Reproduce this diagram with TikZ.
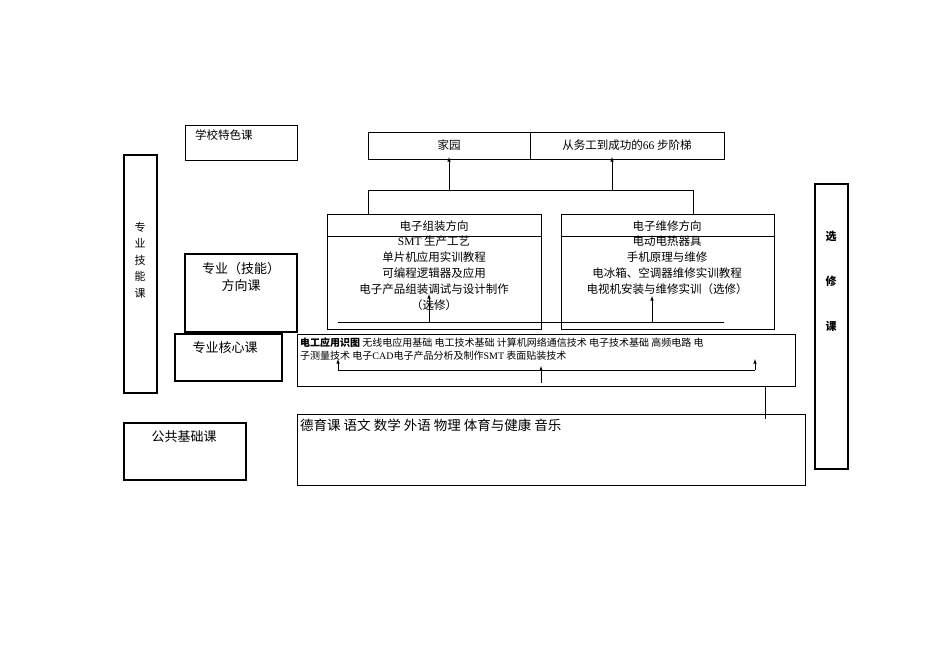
\documentclass[tikz,border=0pt]{standalone}
\usepackage{fontspec}
\setmainfont{Noto Sans CJK SC}
\newfontfamily\lat{Liberation Serif}
\begin{document}
\begin{tikzpicture}[x=1bp,y=-1bp,
  thin box/.style={draw,line width=0.6bp},
  thick box/.style={draw,line width=2bp},
  lbl/.style={inner sep=0,font=\fontsize{11.5bp}{14bp}\selectfont},
  arr/.style={-latex,line width=0.6bp},
  ln/.style={line width=0.6bp}]
\useasboundingbox (0,0) rectangle (950,672);
% left boxes
\draw[thin box] (185,125) rectangle (297,160);
\node[lbl,anchor=west] (tsk) at (195,135) {学校特色课};
\draw[thick box] (124,155) rectangle (157,393);
\node[lbl,align=center,font=\fontsize{11bp}{16.5bp}\selectfont] (zyjn) at (140,260) {专\\业\\技\\能\\课};
\draw[thick box] (185,254) rectangle (297,332);
\node[lbl,align=center,font=\fontsize{13bp}{17bp}\selectfont] (fxk) at (241,277) {专业（技能）\\方向课};
\draw[thick box,fill=white] (175,334) rectangle (282,381);
\node[lbl,font=\fontsize{13bp}{16bp}\selectfont] (hxk) at (225,348) {专业核心课};
\draw[thick box] (124,423) rectangle (246,480);
\node[lbl,font=\fontsize{13bp}{16bp}\selectfont] (ggk) at (184,437) {公共基础课};
% top box
\draw[thin box] (368,132) rectangle (724,159);
\draw[ln] (530,132) -- (530,159);
\coordinate (jy) at (449,159);
\coordinate (cg) at (612,159);
\node[lbl] (t1) at (449,145) {家园};
\node[lbl] (t2) at (627,145) {从务工到成功的\lat 66\ \rmfamily 步阶梯};
\coordinate (b1) at (449,190);
\coordinate (b2) at (612,190);
\draw[ln] (368,214) -- (368,190) -- (693,190) -- (693,214);
\draw[arr] (b1) -- ([yshift=2]jy);
\draw[arr] (b2) -- ([yshift=2]cg);
% direction boxes
\draw[thin box] (327,214) rectangle (541,329);
\draw[ln] (327,236) -- (541,236);
\draw[thin box] (561,214) rectangle (774,329);
\draw[ln] (561,236) -- (774,236);
\node[lbl] (d1) at (434,226) {电子组装方向};
\node[lbl] (d2) at (667,226) {电子维修方向};
\node[lbl,align=center,font=\fontsize{11.5bp}{15.8bp}\selectfont,anchor=north] (c1) at (434,236) {{\lat SMT} 生产工艺\\单片机应用实训教程\\可编程逻辑器及应用\\电子产品组装调试与设计制作\\（选修）};
\node[lbl,align=center,font=\fontsize{11.5bp}{15.8bp}\selectfont,anchor=north] (c2) at (667,236) {电动电热器具\\手机原理与维修\\电冰箱、空调器维修实训教程\\电视机安装与维修实训（选修）};
\coordinate (h1) at (429,322);
\coordinate (h2) at (652,322);
\draw[ln] (338,322) -- (724,322);
\draw[arr] (h1) -- (429,294);
\draw[arr] (h2) -- (652,296);
% core box
\draw[thin box] (297,334) rectangle (795,386);
\node[lbl,anchor=west,font=\fontsize{10bp}{13bp}\selectfont] (core1) at (300,343) {\textbf{电工应用识图} 无线电应用基础 电工技术基础 计算机网络通信技术 电子技术基础 高频电路 电};
\node[lbl,anchor=west,font=\fontsize{10bp}{13bp}\selectfont] (core2) at (300,356) {子测量技术 电子{\lat CAD}电子产品分析及制作{\lat SMT} 表面贴装技术};
\coordinate (m1) at (541,383);
\draw[ln] (338,370) -- (755,370);
\draw[arr] (338,370) -- (338,359);
\draw[arr] (755,370) -- (755,359);
\draw[arr] (m1) -- (541,366);
\draw[ln] (297,386) -- (765,386) -- (765,419);
% public box
\draw[thin box] (297,414) rectangle (805,485);
\node[lbl,anchor=west,font=\fontsize{13.5bp}{16bp}\selectfont] (pub) at (300,425) {德育课 语文 数学 外语 物理 体育与健康 音乐};
% elective
\draw[thick box] (815,184) rectangle (848,469);
\node[lbl,font=\bfseries\fontsize{11bp}{13bp}\selectfont] (x1) at (831,236) {选};
\node[lbl,font=\bfseries\fontsize{11bp}{13bp}\selectfont] (x2) at (831,281) {修};
\node[lbl,font=\bfseries\fontsize{11bp}{13bp}\selectfont] (x3) at (831,326) {课};
\end{tikzpicture}
\end{document}
